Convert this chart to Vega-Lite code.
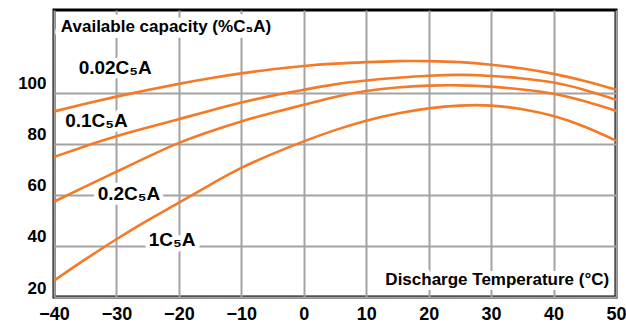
{
  "$schema": "https://vega.github.io/schema/vega-lite/v6.json",
  "width": 562,
  "height": 287,
  "autosize": {"type": "none"},
  "padding": {"left": 54, "top": 10, "right": 10, "bottom": 26},
  "background": "white",
  "config": {
    "view": {"stroke": "#000000", "strokeWidth": 3},
    "axis": {
      "grid": true,
      "gridColor": "#a3a3a3",
      "gridWidth": 2,
      "gridOpacity": 1,
      "domain": false,
      "ticks": false,
      "labelColor": "#000000",
      "labelFont": "Liberation Sans",
      "labelFontWeight": "bold",
      "labelFlush": false,
      "labelOverlap": false,
      "labelBound": false,
      "title": null
    }
  },
  "datasets": {
    "curves": [
      {"series": "0.02C5A", "T": -40, "V": 92.6}, {"series": "0.02C5A", "T": -35, "V": 95.6},
      {"series": "0.02C5A", "T": -30, "V": 98.4}, {"series": "0.02C5A", "T": -25, "V": 101.0},
      {"series": "0.02C5A", "T": -20, "V": 103.4}, {"series": "0.02C5A", "T": -15, "V": 105.6},
      {"series": "0.02C5A", "T": -10, "V": 107.5}, {"series": "0.02C5A", "T": -5, "V": 109.1},
      {"series": "0.02C5A", "T": 0, "V": 110.4}, {"series": "0.02C5A", "T": 5, "V": 111.3},
      {"series": "0.02C5A", "T": 10, "V": 111.9}, {"series": "0.02C5A", "T": 15, "V": 112.3},
      {"series": "0.02C5A", "T": 20, "V": 112.3}, {"series": "0.02C5A", "T": 25, "V": 111.9},
      {"series": "0.02C5A", "T": 30, "V": 110.9}, {"series": "0.02C5A", "T": 35, "V": 109.4},
      {"series": "0.02C5A", "T": 40, "V": 107.3}, {"series": "0.02C5A", "T": 45, "V": 104.5},
      {"series": "0.02C5A", "T": 50, "V": 101.1},
      {"series": "0.1C5A", "T": -40, "V": 74.8}, {"series": "0.1C5A", "T": -35, "V": 79.0},
      {"series": "0.1C5A", "T": -30, "V": 82.9}, {"series": "0.1C5A", "T": -25, "V": 86.3},
      {"series": "0.1C5A", "T": -20, "V": 89.6}, {"series": "0.1C5A", "T": -15, "V": 92.9},
      {"series": "0.1C5A", "T": -10, "V": 96.1}, {"series": "0.1C5A", "T": -5, "V": 98.8},
      {"series": "0.1C5A", "T": 0, "V": 101.1}, {"series": "0.1C5A", "T": 5, "V": 103.2},
      {"series": "0.1C5A", "T": 10, "V": 104.7}, {"series": "0.1C5A", "T": 15, "V": 105.8},
      {"series": "0.1C5A", "T": 20, "V": 106.6}, {"series": "0.1C5A", "T": 25, "V": 106.9},
      {"series": "0.1C5A", "T": 30, "V": 106.5}, {"series": "0.1C5A", "T": 35, "V": 105.5},
      {"series": "0.1C5A", "T": 40, "V": 103.9}, {"series": "0.1C5A", "T": 45, "V": 101.0},
      {"series": "0.1C5A", "T": 50, "V": 97.2},
      {"series": "0.2C5A", "T": -40, "V": 57.3}, {"series": "0.2C5A", "T": -35, "V": 63.2},
      {"series": "0.2C5A", "T": -30, "V": 69.0}, {"series": "0.2C5A", "T": -25, "V": 74.8},
      {"series": "0.2C5A", "T": -20, "V": 80.3}, {"series": "0.2C5A", "T": -15, "V": 84.8},
      {"series": "0.2C5A", "T": -10, "V": 88.7}, {"series": "0.2C5A", "T": -5, "V": 92.1},
      {"series": "0.2C5A", "T": 0, "V": 95.2}, {"series": "0.2C5A", "T": 5, "V": 98.3},
      {"series": "0.2C5A", "T": 10, "V": 100.6}, {"series": "0.2C5A", "T": 15, "V": 102.0},
      {"series": "0.2C5A", "T": 20, "V": 102.7}, {"series": "0.2C5A", "T": 25, "V": 102.8},
      {"series": "0.2C5A", "T": 30, "V": 102.3}, {"series": "0.2C5A", "T": 35, "V": 101.2},
      {"series": "0.2C5A", "T": 40, "V": 99.5}, {"series": "0.2C5A", "T": 45, "V": 96.6},
      {"series": "0.2C5A", "T": 50, "V": 92.9},
      {"series": "1C5A", "T": -40, "V": 26.4}, {"series": "1C5A", "T": -35, "V": 34.7},
      {"series": "1C5A", "T": -30, "V": 42.6}, {"series": "1C5A", "T": -25, "V": 50.0},
      {"series": "1C5A", "T": -20, "V": 56.9}, {"series": "1C5A", "T": -15, "V": 63.9},
      {"series": "1C5A", "T": -10, "V": 70.5}, {"series": "1C5A", "T": -5, "V": 76.0},
      {"series": "1C5A", "T": 0, "V": 80.9}, {"series": "1C5A", "T": 5, "V": 85.3},
      {"series": "1C5A", "T": 10, "V": 89.0}, {"series": "1C5A", "T": 15, "V": 91.8},
      {"series": "1C5A", "T": 20, "V": 93.8}, {"series": "1C5A", "T": 25, "V": 94.9},
      {"series": "1C5A", "T": 30, "V": 94.9}, {"series": "1C5A", "T": 35, "V": 93.5},
      {"series": "1C5A", "T": 40, "V": 90.8}, {"series": "1C5A", "T": 45, "V": 86.6},
      {"series": "1C5A", "T": 50, "V": 81.2}
    ],
    "curveLabels": [
      {"label": "0.02C₅A", "T": -30.2, "V": 107.3},
      {"label": "0.1C₅A", "T": -33.2, "V": 86.5},
      {"label": "0.2C₅A", "T": -28.0, "V": 58.0},
      {"label": "1C₅A", "T": -21.1, "V": 39.8}
    ],
    "yTitle": [
      {"label": "Available capacity (%C₅A)", "T": -38.9, "V": 123.7}
    ],
    "xTitle": [
      {"label": "Discharge Temperature (°C)", "T": 48.9, "V": 24.8}
    ]
  },
  "encoding": {
    "x": {
      "field": "T",
      "type": "quantitative",
      "scale": {"domain": [-40, 50], "nice": false, "zero": false},
      "axis": {
        "values": [-40, -30, -20, -10, 0, 10, 20, 30, 40, 50],
        "labelFontSize": 18,
        "labelPadding": 8,
        "labelBaseline": "top"
      }
    },
    "y": {
      "field": "V",
      "type": "quantitative",
      "scale": {"domain": [20, 132.3], "nice": false, "zero": false},
      "axis": {
        "values": [20, 40, 60, 80, 100],
        "labelFontSize": 17,
        "labelPadding": 8,
        "labelBaseline": "alphabetic",
        "labelOffset": -4
      }
    }
  },
  "layer": [
    {
      "data": {"name": "yTitle"},
      "mark": {"type": "text", "align": "left", "baseline": "alphabetic", "font": "Liberation Sans", "fontWeight": "bold", "fontSize": 17, "fill": "white", "stroke": "white", "strokeWidth": 12, "strokeJoin": "round"},
      "encoding": {"text": {"field": "label"}}
    },
    {
      "data": {"name": "xTitle"},
      "mark": {"type": "text", "align": "right", "baseline": "alphabetic", "font": "Liberation Sans", "fontWeight": "bold", "fontSize": 17, "fill": "white", "stroke": "white", "strokeWidth": 10, "strokeJoin": "round"},
      "encoding": {"text": {"field": "label"}}
    },
    {
      "data": {"name": "curveLabels"},
      "mark": {"type": "text", "align": "center", "baseline": "alphabetic", "font": "Liberation Sans", "fontWeight": "bold", "fontSize": 19, "fill": "white", "stroke": "white", "strokeWidth": 9, "strokeJoin": "round"},
      "encoding": {"text": {"field": "label"}}
    },
    {
      "data": {"name": "curves"},
      "mark": {"type": "line", "color": "#f47a28", "strokeWidth": 2.6, "interpolate": "natural"},
      "encoding": {"detail": {"field": "series"}}
    },
    {
      "data": {"name": "yTitle"},
      "mark": {"type": "text", "align": "left", "baseline": "alphabetic", "font": "Liberation Sans", "fontWeight": "bold", "fontSize": 17, "fill": "black"},
      "encoding": {"text": {"field": "label"}}
    },
    {
      "data": {"name": "xTitle"},
      "mark": {"type": "text", "align": "right", "baseline": "alphabetic", "font": "Liberation Sans", "fontWeight": "bold", "fontSize": 17, "fill": "black"},
      "encoding": {"text": {"field": "label"}}
    },
    {
      "data": {"name": "curveLabels"},
      "mark": {"type": "text", "align": "center", "baseline": "alphabetic", "font": "Liberation Sans", "fontWeight": "bold", "fontSize": 19, "fill": "black"},
      "encoding": {"text": {"field": "label"}}
    }
  ]
}
